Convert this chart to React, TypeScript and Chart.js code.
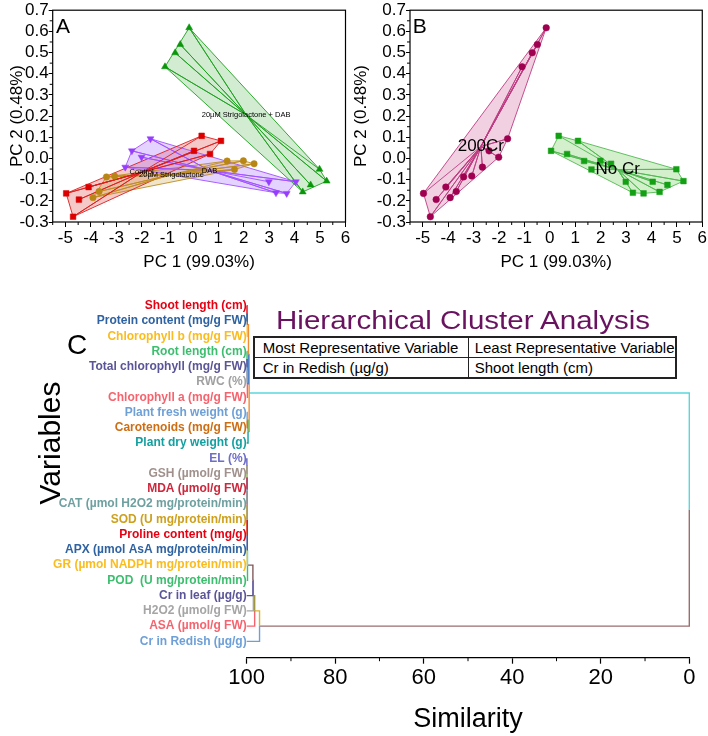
import React, { useEffect, useRef } from "react";
import { Chart, registerables } from "chart.js";

Chart.register(...registerables);

const FONT = "'Liberation Sans', Arial, Helvetica, sans-serif";

// ---------- PCA scores (PC1, PC2): four points per treatment and Cr level ----------
const controlNoCr = [[0.35, 0.107], [1.11, 0.083], [0.05, 0.036], [0.68, 0.021]];
const controlCr = [[-4.97, -0.165], [-4.09, -0.135], [-4.47, -0.194], [-4.70, -0.275]];
const slNoCr = [[1.35, -0.012], [1.99, -0.011], [2.41, -0.025], [1.64, -0.052]];
const slCr = [[-3.39, -0.087], [-3.07, -0.083], [-3.68, -0.156], [-3.92, -0.185]];
const dabNoCr = [[2.99, -0.11], [4.05, -0.11], [3.27, -0.162], [3.69, -0.165]];
const dabCr = [[-1.66, 0.093], [-2.39, 0.036], [-2.01, 0.006], [-2.65, -0.041]];
const slDabNoCr = [[4.98, -0.051], [5.26, -0.107], [4.63, -0.125], [4.32, -0.158]];
const slDabCr = [[-0.14, 0.617], [-0.49, 0.538], [-0.69, 0.499], [-1.09, 0.433]];

const treatmentNames = ["Control", "20µM Strigolactone", "DAB", "20µM Strigolactone + DAB"];
const crNames = ["200Cr", "No Cr"];

const pc1Ticks = [-5, -4, -3, -2, -1, 0, 1, 2, 3, 4, 5, 6];
const pc1Minor = [-5.5, -4.5, -3.5, -2.5, -1.5, -0.5, 0.5, 1.5, 2.5, 3.5, 4.5, 5.5];
const pc2Ticks = [-0.3, -0.2, -0.1, 0, 0.1, 0.2, 0.3, 0.4, 0.5, 0.6, 0.7];
const pc2Minor = [-0.25, -0.15, -0.05, 0.05, 0.15, 0.25, 0.35, 0.45, 0.55, 0.65];

// ---------- Hierarchical cluster analysis ----------
const variables = [
  "Shoot length (cm)",
  "Protein content (mg/g FW)",
  "Chlorophyll b (mg/g FW)",
  "Root length (cm)",
  "Total chlorophyll (mg/g FW)",
  "RWC (%)",
  "Chlorophyll a (mg/g FW)",
  "Plant fresh weight (g)",
  "Carotenoids (mg/g FW)",
  "Plant dry weight (g)",
  "EL (%)",
  "GSH (µmol/g FW)",
  "MDA (µmol/g FW)",
  "CAT (µmol H2O2 mg/protein/min)",
  "SOD (U mg/protein/min)",
  "Proline content (mg/g)",
  "APX (µmol AsA mg/protein/min)",
  "GR (µmol NADPH mg/protein/min)",
  "POD  (U mg/protein/min)",
  "Cr in leaf (µg/g)",
  "H2O2 (µmol/g FW)",
  "ASA (µmol/g FW)",
  "Cr in Redish (µg/g)",
];
const variableColors = [
  "rgb(230,0,18)", "rgb(46,98,160)", "rgb(250,188,30)", "rgb(60,190,110)",
  "rgb(90,85,150)", "rgb(160,160,160)", "rgb(245,100,110)", "rgb(110,160,215)",
  "rgb(205,110,20)", "rgb(20,160,160)", "rgb(110,110,200)", "rgb(160,145,140)",
  "rgb(205,40,60)", "rgb(110,160,160)", "rgb(205,160,30)", "rgb(232,0,18)",
  "rgb(46,98,160)", "rgb(250,188,30)", "rgb(60,190,110)", "rgb(90,85,150)",
  "rgb(165,165,165)", "rgb(245,100,110)", "rgb(110,160,215)",
];
// linkage rows: [child A, child B, similarity]; ids 0-22 are variables, 23+ are the merged clusters in row order
const linkage = [
  [3, 4, 99.93], [23, 5, 99.9], [24, 6, 99.85], [0, 1, 99.93], [27 - 1, 2, 99.88],
  [27, 25, 99.6], [7, 8, 99.9], [29, 9, 99.7], [28, 30, 99.45],
  [10, 11, 99.95], [32, 12, 99.93], [33, 13, 99.92], [34, 14, 99.91], [35, 15, 99.9],
  [36, 16, 99.88], [37, 17, 99.86], [38, 18, 99.82], [39, 19, 98.6], [40, 20, 98.5],
  [41, 21, 98.2], [42, 22, 97.1],
  [31, 43, 0],
];
const clusterColors = [
  "rgb(80,130,200)", "rgb(80,130,200)", "rgb(80,130,200)", "rgb(110,110,120)", "rgb(240,140,50)",
  "rgb(240,140,50)", "rgb(100,180,80)", "rgb(240,140,50)", "rgb(90,215,220)",
  "rgb(140,180,80)", "rgb(80,130,200)", "rgb(230,100,110)", "rgb(80,130,200)", "rgb(200,170,60)",
  "rgb(180,140,220)", "rgb(60,200,200)", "rgb(130,90,90)", "rgb(170,130,220)", "rgb(160,150,60)",
  "rgb(220,180,50)", "rgb(155,110,110)",
  "rgb(155,110,110)",
];
const similarityTicks = [100, 80, 60, 40, 20, 0];
const similarityMinor = [90, 70, 50, 30, 10];

// ---------- helpers ----------
type P = { x: number; y: number };
const toPts = (arr: number[][]): P[] => arr.map(([x, y]) => ({ x, y }));
const centroid = (pts: P[]): P => ({
  x: pts.reduce((s, p) => s + p.x, 0) / pts.length,
  y: pts.reduce((s, p) => s + p.y, 0) / pts.length,
});
function convexHull(pts: P[]): P[] {
  const s = [...pts].sort((a, b) => a.x - b.x || a.y - b.y);
  const cross = (o: P, a: P, b: P) => (a.x - o.x) * (b.y - o.y) - (a.y - o.y) * (b.x - o.x);
  const lower: P[] = [];
  for (const p of s) {
    while (lower.length >= 2 && cross(lower[lower.length - 2], lower[lower.length - 1], p) <= 0) lower.pop();
    lower.push(p);
  }
  const upper: P[] = [];
  for (let i = s.length - 1; i >= 0; i--) {
    const p = s[i];
    while (upper.length >= 2 && cross(upper[upper.length - 2], upper[upper.length - 1], p) <= 0) upper.pop();
    upper.push(p);
  }
  upper.pop();
  lower.pop();
  const h = lower.concat(upper);
  return [...h, h[0]];
}

type Group = {
  label: string;
  pts: P[];
  color: string;
  line: string;
  fill: string;
  style: string;
  rotation: number;
  radius: number;
};

function groupDatasets(g: Group) {
  const c = centroid(g.pts);
  const star: P[] = [];
  g.pts.forEach((p) => {
    star.push(p);
    star.push(c);
  });
  return [
    {
      data: g.pts,
      pointStyle: g.style,
      rotation: g.rotation,
      pointRadius: g.radius,
      pointBackgroundColor: g.color,
      pointBorderColor: g.color,
      pointBorderWidth: 0.5,
      showLine: false,
      order: 0,
    },
    {
      data: star,
      showLine: true,
      borderColor: g.line,
      borderWidth: 0.9,
      pointRadius: 0,
      order: 1,
    },
    {
      data: convexHull(g.pts),
      showLine: true,
      borderColor: g.line,
      borderWidth: 0.9,
      pointRadius: 0,
      hullFill: g.fill,
      order: 2,
    },
  ];
}

// ---------- plugins ----------
const hullFillPlugin = {
  id: "hullFill",
  beforeDatasetsDraw(chart: any) {
    const ctx = chart.ctx;
    chart.data.datasets.forEach((ds: any, i: number) => {
      if (!ds.hullFill) return;
      const meta = chart.getDatasetMeta(i);
      if (!meta.data.length) return;
      ctx.save();
      ctx.beginPath();
      meta.data.forEach((el: any, j: number) => (j ? ctx.lineTo(el.x, el.y) : ctx.moveTo(el.x, el.y)));
      ctx.closePath();
      ctx.fillStyle = ds.hullFill;
      ctx.fill();
      ctx.restore();
    });
  },
};

const groupLabelPlugin = {
  id: "groupLabels",
  afterDatasetsDraw(chart: any, _a: any, opts: any) {
    const { ctx } = chart;
    const xs = chart.scales.x;
    const ys = chart.scales.y;
    (opts.items || []).forEach((it: any) => {
      ctx.save();
      ctx.font = it.font;
      ctx.fillStyle = "#000";
      ctx.textAlign = "center";
      ctx.textBaseline = "middle";
      ctx.fillText(it.text, xs.getPixelForValue(it.x), ys.getPixelForValue(it.y));
      ctx.restore();
    });
  },
};

const framePlugin = {
  id: "frame",
  afterDraw(chart: any, _a: any, opts: any) {
    if (!opts.show) return;
    const { ctx, chartArea: a } = chart;
    ctx.save();
    ctx.strokeStyle = "#000";
    ctx.lineWidth = 1.2;
    ctx.strokeRect(a.left, a.top, a.right - a.left, a.bottom - a.top);
    ctx.restore();
  },
};

const minorTickPlugin = {
  id: "minorTicks",
  afterDraw(chart: any, _a: any, opts: any) {
    const { ctx, chartArea: a } = chart;
    ctx.save();
    ctx.strokeStyle = "#000";
    ctx.lineWidth = 1;
    (opts.x || []).forEach((v: number) => {
      const px = chart.scales.x.getPixelForValue(v);
      ctx.beginPath();
      ctx.moveTo(px, a.bottom);
      ctx.lineTo(px, a.bottom + opts.len);
      ctx.stroke();
    });
    (opts.y || []).forEach((v: number) => {
      const py = chart.scales.y.getPixelForValue(v);
      ctx.beginPath();
      ctx.moveTo(a.left, py);
      ctx.lineTo(a.left - opts.len, py);
      ctx.stroke();
    });
    ctx.restore();
  },
};

function pcaConfig(groups: Group[], labels: any[], yTitlePad: number, padRight: number, yWidth: number) {
  const datasets: any[] = [];
  groups.forEach((g) => datasets.push(...groupDatasets(g)));
  const tickFont = { family: FONT, size: 17 };
  return {
    type: "scatter",
    data: { datasets },
    options: {
      responsive: false,
      animation: false,
      layout: { padding: { top: 10, right: padRight, left: 0, bottom: 0 } },
      plugins: {
        legend: { display: false },
        tooltip: { enabled: false },
        groupLabels: { items: labels },
        frame: { show: true },
        minorTicks: { x: pc1Minor, y: pc2Minor, len: 3 },
      },
      scales: {
        x: {
          type: "linear",
          min: -5.5,
          max: 6,
          afterBuildTicks: (s: any) => {
            s.ticks = pc1Ticks.map((v) => ({ value: v }));
          },
          afterFit: (s: any) => {
            s.height = 58;
          },
          ticks: { font: tickFont, color: "#000", padding: 1, maxRotation: 0, autoSkip: false, callback: (v: any) => String(v) },
          grid: { drawOnChartArea: false, tickLength: 5, color: "#000" },
          border: { display: false },
          title: { display: true, text: "PC 1 (99.03%)", font: tickFont, color: "#000", padding: { top: 0, bottom: 7.8 } },
        },
        y: {
          type: "linear",
          min: -0.3,
          max: 0.7,
          afterBuildTicks: (s: any) => {
            s.ticks = pc2Ticks.map((v) => ({ value: v }));
          },
          afterFit: (s: any) => {
            s.width = yWidth;
          },
          ticks: { font: tickFont, color: "#000", padding: 0, autoSkip: false, callback: (v: any) => Number(v).toFixed(1) },
          grid: { drawOnChartArea: false, tickLength: 4, color: "#000" },
          border: { display: false },
          title: { display: true, text: "PC 2 (0.48%)", font: tickFont, color: "#000", padding: { top: yTitlePad, bottom: 0 } },
        },
      },
    },
    plugins: [hullFillPlugin, groupLabelPlugin, framePlugin, minorTickPlugin],
  };
}

function dendroConfig() {
  const nodeY: number[] = variables.map((_, i) => i);
  const nodeS: number[] = variables.map(() => 100);
  const nodeColor: string[] = [...variableColors];
  const datasets: any[] = [];
  linkage.forEach(([a, b, s], k) => {
    const mid = (nodeY[a] + nodeY[b]) / 2;
    [a, b].forEach((c) => {
      datasets.push({
        data: [
          { x: nodeS[c], y: nodeY[c] },
          { x: s, y: nodeY[c] },
          { x: s, y: mid },
        ],
        showLine: true,
        borderColor: nodeColor[c],
        borderWidth: 1.4,
        pointRadius: 0,
        clip: 3,
      });
    });
    nodeY.push(mid);
    nodeS.push(s);
    nodeColor.push(clusterColors[k]);
  });
  return {
    type: "scatter",
    data: { datasets },
    options: {
      responsive: false,
      animation: false,
      layout: { padding: { top: 10, right: 18.7, left: 0, bottom: 0 } },
      plugins: {
        legend: { display: false },
        tooltip: { enabled: false },
        frame: { show: false },
        minorTicks: { x: similarityMinor, y: [], len: 3.5 },
      },
      scales: {
        x: {
          type: "linear",
          min: 0,
          max: 100,
          reverse: true,
          afterBuildTicks: (s: any) => {
            s.ticks = similarityTicks.map((v) => ({ value: v }));
          },
          afterFit: (s: any) => {
            s.height = 78.3;
          },
          ticks: { font: { family: FONT, size: 22 }, color: "#000", padding: 1, maxRotation: 0, autoSkip: false, callback: (v: any) => String(v) },
          grid: { drawOnChartArea: false, tickLength: 6, color: "#000", tickWidth: 1.2 },
          border: { display: true, color: "#000", width: 1.3 },
          title: { display: true, text: "Similarity", font: { family: FONT, size: 27 }, color: "#000", padding: { top: 0, bottom: 0 } },
        },
        y: {
          type: "linear",
          min: -1.03,
          max: 23.07,
          reverse: true,
          afterBuildTicks: (s: any) => {
            s.ticks = variables.map((_, i) => ({ value: i }));
          },
          afterFit: (s: any) => {
            s.width = 246.7;
          },
          ticks: {
            font: { family: FONT, size: 12, weight: "bold" },
            color: (c: any) => variableColors[c.index] || "#000",
            padding: 0,
            autoSkip: false,
            callback: (v: any) => variables[v],
          },
          grid: { display: false, drawTicks: false },
          border: { display: false },
        },
      },
    },
    plugins: [framePlugin, minorTickPlugin],
  };
}

const Txt = ({ x, y, size, text, color = "#000", transform = "", weight = "normal" }: any) => (
  <div
    style={{
      position: "absolute",
      left: x,
      top: y,
      transform: `translate(-50%, -50%) ${transform}`,
      fontFamily: FONT,
      fontSize: size,
      lineHeight: `${size}px`,
      whiteSpace: "nowrap",
      color,
      fontWeight: weight,
    }}
  >
    {text}
  </div>
);

export default function App() {
  const refA = useRef<HTMLCanvasElement>(null);
  const refB = useRef<HTMLCanvasElement>(null);
  const refC = useRef<HTMLCanvasElement>(null);

  useEffect(() => {
    const groupsA: Group[] = [
      { label: treatmentNames[0], pts: toPts([...controlNoCr, ...controlCr]), color: "rgb(220,0,0)", line: "rgb(220,30,30)", fill: "rgba(222,60,60,0.28)", style: "rect", rotation: 0, radius: 4 },
      { label: treatmentNames[1], pts: toPts([...slNoCr, ...slCr]), color: "rgb(184,134,20)", line: "rgb(190,140,30)", fill: "rgba(205,165,80,0.3)", style: "circle", rotation: 0, radius: 3.2 },
      { label: treatmentNames[2], pts: toPts([...dabNoCr, ...dabCr]), color: "rgb(150,60,255)", line: "rgb(160,80,255)", fill: "rgba(170,110,255,0.3)", style: "triangle", rotation: 180, radius: 4 },
      { label: treatmentNames[3], pts: toPts([...slDabNoCr, ...slDabCr]), color: "rgb(10,150,10)", line: "rgb(30,160,30)", fill: "rgba(70,180,70,0.25)", style: "triangle", rotation: 0, radius: 4 },
    ];
    const labelsA = groupsA.map((g) => ({ text: g.label, ...centroid(g.pts), font: `7.5px ${FONT}` }));

    const groupsB: Group[] = [
      { label: crNames[0], pts: toPts([...controlCr, ...slCr, ...dabCr, ...slDabCr]), color: "rgb(160,0,80)", line: "rgb(190,60,130)", fill: "rgba(210,110,165,0.32)", style: "circle", rotation: 0, radius: 3.3 },
      { label: crNames[1], pts: toPts([...controlNoCr, ...slNoCr, ...dabNoCr, ...slDabNoCr]), color: "rgb(20,160,20)", line: "rgb(80,185,80)", fill: "rgba(130,210,110,0.35)", style: "rect", rotation: 0, radius: 4 },
    ];
    const labelsB = groupsB.map((g) => ({ text: g.label, ...centroid(g.pts), font: `17px ${FONT}` }));

    const a = new Chart(refA.current as any, pcaConfig(groupsA, labelsA, 6.8, 8.5, 52.7) as any);
    const b = new Chart(refB.current as any, pcaConfig(groupsB, labelsB, 1.1, 5, 60) as any);
    const c = new Chart(refC.current as any, dendroConfig() as any);
    return () => {
      a.destroy();
      b.destroy();
      c.destroy();
    };
  }, []);

  const cell: any = { border: "1.5px solid #222", padding: "0 0 0 7px", height: 19, lineHeight: "18px", textAlign: "left", verticalAlign: "middle" };

  return (
    <div style={{ position: "fixed", left: 0, top: 0, width: 708, height: 736, background: "#fff", overflow: "hidden" }}>
      <canvas ref={refA} width={354} height={280} style={{ position: "absolute", left: 0, top: 0, width: 354, height: 280 }} />
      <canvas ref={refB} width={358} height={280} style={{ position: "absolute", left: 350, top: 0, width: 358, height: 280 }} />
      <canvas ref={refC} width={708} height={456} style={{ position: "absolute", left: 0, top: 280, width: 708, height: 456 }} />

      <Txt x={63} y={24.5} size={21} text="A" />
      <Txt x={419.7} y={24.5} size={21} text="B" />
      <Txt x={77} y={345} size={28} text="C" />
      <Txt x={50} y={442.5} size={30} text="Variables" transform="rotate(-90deg)" />
      <Txt x={463} y={320} size={26} text="Hierarchical Cluster Analysis" color="rgb(105,18,95)" transform="scaleX(1.135)" />

      <table
        style={{
          position: "absolute",
          left: 252.7,
          top: 336,
          width: 424.3,
          height: 41.3,
          borderCollapse: "collapse",
          border: "2px solid #222",
          fontFamily: FONT,
          fontSize: 15,
          color: "#000",
          background: "#fff",
          tableLayout: "fixed",
        }}
      >
        <tbody>
          <tr>
            <td style={{ ...cell, width: 205, paddingLeft: 8 }}>Most Representative Variable</td>
            <td style={{ ...cell, paddingLeft: 6 }}>Least Representative Variable</td>
          </tr>
          <tr>
            <td style={{ ...cell, paddingLeft: 8 }}>Cr in Redish (µg/g)</td>
            <td style={{ ...cell, paddingLeft: 6 }}>Shoot length (cm)</td>
          </tr>
        </tbody>
      </table>
    </div>
  );
}
